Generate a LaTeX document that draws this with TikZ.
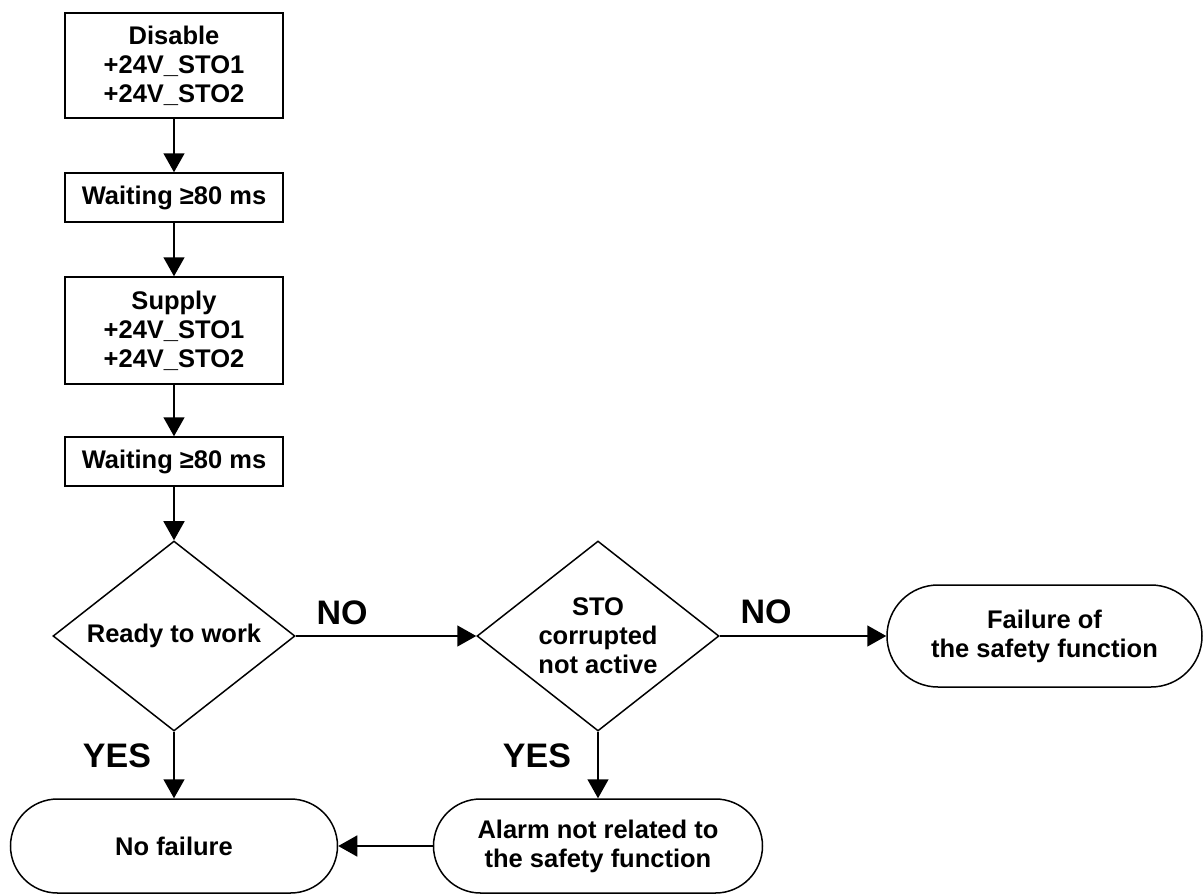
\documentclass[tikz,border=0pt]{standalone}
\usepackage{fontspec}
\setmainfont{Liberation Sans}
\usetikzlibrary{shapes.geometric,shapes.misc,arrows.meta}
\begin{document}
\begin{tikzpicture}[x=1pt,y=-1pt,
  line width=1.5pt,
  base/.style={draw, inner sep=0pt, align=center,
    font=\fontsize{25.5}{29}\selectfont\bfseries},
  stepbox/.style={base, rectangle, minimum width=218pt},
  decision/.style={base, diamond, aspect=1.27, minimum width=242pt, minimum height=190pt},
  terminal/.style={base, rounded rectangle},
  answer/.style={font=\fontsize{34}{36}\selectfont\bfseries},
  flow/.style={-{Triangle[length=19pt,width=21pt]}}]
\useasboundingbox (0,0) rectangle (1203,895);

% sequence of steps
\node[stepbox, minimum height=105pt] (disable) at (174,65.5) {Disable\\+24V\_STO1\\+24V\_STO2};
\node[stepbox, minimum height=49pt] (wait1) at (174,197.5) {Waiting ≥80 ms};
\node[stepbox, minimum height=107pt] (supply) at (174,330.5) {Supply\\+24V\_STO1\\+24V\_STO2};
\node[stepbox, minimum height=49pt] (wait2) at (174,461.5) {Waiting ≥80 ms};

% decisions
\node[decision] (ready) at (174,636) {Ready to work};
\node[decision] (sto) at (598,636) {STO\\corrupted\\not active};

% outcomes
\node[terminal, minimum width=327pt, minimum height=94pt] (nofail) at (174,846) {No failure};
\node[terminal, minimum width=329pt, minimum height=94pt] (alarm) at (598,846) {Alarm not related to\\the safety function};
\node[terminal, minimum width=315pt, minimum height=102pt] (failure) at (1044.5,636) {Failure of\\the safety function};

% connectors
\draw[flow] (disable) -- (wait1);
\draw[flow] (wait1) -- (supply);
\draw[flow] (supply) -- (wait2);
\draw[flow] (wait2) -- (ready);
\draw[flow] (ready.east) -- (sto.west);
\draw[flow] (sto.east) -- (failure.west);
\draw[flow] (ready.south) -- (nofail.north);
\draw[flow] (sto.south) -- (alarm.north);
\draw[flow] (alarm.west) -- (nofail.east);

% branch labels
\node[answer] (no1) at (342,613) {NO};
\node[answer] (no2) at (766,612) {NO};
\node[answer] (yes1) at (117,756) {YES};
\node[answer] (yes2) at (537,756) {YES};
\end{tikzpicture}
\end{document}
